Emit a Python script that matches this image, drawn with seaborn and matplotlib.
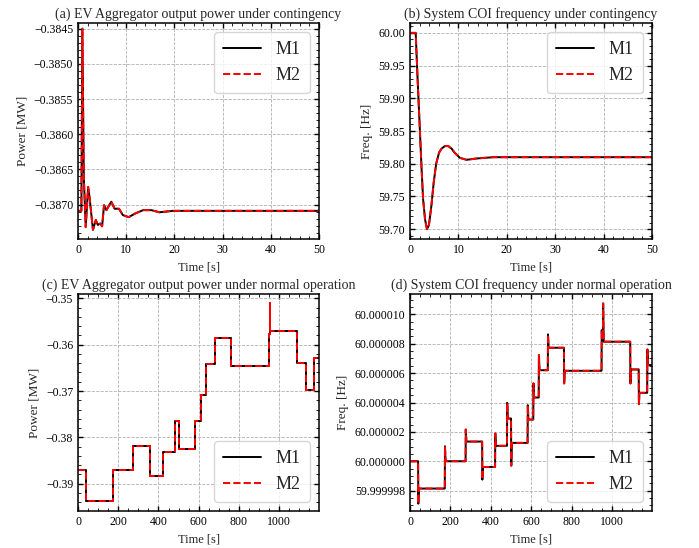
import numpy as np
import pandas as pd
import matplotlib
matplotlib.use("Agg")
import matplotlib.pyplot as plt
import seaborn as sns
from matplotlib.ticker import AutoMinorLocator, FuncFormatter, MultipleLocator

# ---- (a) EV aggregator power under contingency ----
t_a = [0, 0.7, 0.9, 1.2, 1.6, 2.1, 2.4, 3.1, 3.7, 4.1, 4.6, 5.0, 5.4, 5.9, 6.9,
       7.6, 8.5, 9.3, 10.5, 11.8, 13.5, 15.2, 16.9, 19.7, 30, 40, 50]
p_a = [-0.38709, -0.38709, -0.3845, -0.3866, -0.38732, -0.38675, -0.38690, -0.38736,
       -0.38722, -0.38729, -0.38727, -0.38731, -0.38701, -0.38708, -0.38696,
       -0.38706, -0.38706, -0.38715, -0.38718, -0.38713, -0.38708, -0.38708,
       -0.38711, -0.38709, -0.38709, -0.38709, -0.38709]

# ---- (b) COI frequency under contingency ----
t_b = [0, 1.17, 1.5, 2.0, 2.4, 2.7, 3.1, 3.5, 3.9, 4.4, 4.9, 5.4, 6.0, 6.5, 7.2,
       7.9, 8.6, 9.2, 10.3, 11.7, 13.7, 17.2, 25, 35, 50]
f_b = [60.0, 60.0, 59.94, 59.857, 59.79, 59.746, 59.715, 59.70, 59.706, 59.735,
       59.772, 59.80, 59.817, 59.823, 59.827, 59.827, 59.823, 59.817, 59.809,
       59.806, 59.808, 59.81, 59.81, 59.81, 59.81]

# ---- (c) EV aggregator power under normal operation (step changes) ----
t_c = [0, 38.5, 172, 273, 356, 421, 480, 500, 582, 610, 637, 682, 762, 948, 953,
       956, 1090, 1132, 1174]
p_c = [-0.38712, -0.39382, -0.38712, -0.38193, -0.38841, -0.38315, -0.37645,
       -0.38258, -0.37652, -0.37076, -0.36427, -0.3585, -0.36456, -0.3578,
       -0.3511, -0.35706, -0.36391, -0.36968, -0.36283]

# ---- (d) COI frequency under normal operation: deviation from 60 Hz [uHz] ----
t_d = [0, 40, 172, 275, 357, 421, 480, 500, 582, 610, 637, 682, 762, 948, 955,
       1090, 1132, 1174]
peak_d = [0.0, -2.89, 1.02, 2.16, -1.25, 1.89, 3.98, -0.3, 3.82, 5.3, 7.23,
          8.64, 5.3, 8.93, 10.75, 5.3, 3.89, 7.61]
level_d = [0.0, -1.86, 0.0, 1.34, -0.39, 1.05, 2.91, 1.25, 2.84, 4.34, 6.2,
           7.73, 6.16, 8.3, 8.14, 6.25, 4.66, 6.55]
t_end = 1198

models = ["M1", "M2"]


def step_curve(times, levels, end):
    x, y = [], []
    for i, (t, v) in enumerate(zip(times, levels)):
        nxt = times[i + 1] if i + 1 < len(times) else end
        x += [t, nxt]
        y += [v, v]
    return x, y


def spiky_curve(times, peaks, levels, end):
    x, y = [times[0]], [levels[0]]
    for i in range(1, len(times)):
        t = times[i]
        x += [t, t + 1, t + 4]
        y += [levels[i - 1], peaks[i], levels[i]]
    x.append(end)
    y.append(levels[-1])
    return x, y


def long_df(x, y):
    return pd.concat([pd.DataFrame({"t": x, "v": y, "model": m}) for m in models],
                     ignore_index=True)


def fmt(decimals):
    return FuncFormatter(lambda v, _: f"{v:.{decimals}f}".replace("-", "\u2212"))


sns.set_style("ticks")
plt.rcParams["font.family"] = ["Liberation Serif", "DejaVu Serif"]
plt.rcParams["mathtext.fontset"] = "stix"
plt.rcParams.update({
    "xtick.direction": "in", "ytick.direction": "in",
    "xtick.top": True, "ytick.right": True,
    "xtick.minor.visible": True, "ytick.minor.visible": True,
    "xtick.major.size": 3.5, "ytick.major.size": 3.5,
    "xtick.minor.size": 2, "ytick.minor.size": 2,
    "xtick.major.width": 1.0, "ytick.major.width": 1.0,
    "xtick.labelsize": 8.5, "ytick.labelsize": 8.5,
    "axes.linewidth": 1.1, "axes.edgecolor": "black",
    "xtick.color": "black", "ytick.color": "black",
})

fig = plt.figure(figsize=(6.99, 5.48), dpi=100)
pos = {
    "a": [0.1116, 0.5639, 0.3448, 0.394],
    "b": [0.5866, 0.5639, 0.3462, 0.394],
    "c": [0.1116, 0.0675, 0.3448, 0.396],
    "d": [0.5866, 0.0675, 0.3462, 0.396],
}

xd, yd = spiky_curve(t_d, peak_d, level_d, t_end)
yd = [60.0 + v * 1e-6 for v in yd]
xc, yc = step_curve(t_c, p_c, t_end)

panels = [
    ("a", long_df(t_a, p_a), "(a) EV Aggregator output power under contingency",
     "Power [MW]", (0, 50), (-0.38749, -0.38442), "upper right"),
    ("b", long_df(t_b, f_b), "(b) System COI frequency under contingency",
     "Freq. [Hz]", (0, 50), (59.685, 60.015), "upper right"),
    ("c", long_df(xc, yc), "(c) EV Aggregator output power under normal operation",
     "Power [MW]", (0, t_end), (-0.3959, -0.34906), "lower right"),
    ("d", long_df(xd, yd), "(d) System COI frequency under normal operation",
     "Freq. [Hz]", (0, t_end), (60 - 3.39e-6, 60 + 11.39e-6), "lower right"),
]

for key, df, title, ylabel, xlim, ylim, loc in panels:
    ax = fig.add_axes(pos[key])
    sns.lineplot(data=df, x="t", y="v", hue="model", style="model",
                 palette={"M1": "black", "M2": "red"},
                 dashes={"M1": "", "M2": (3.7, 1.6)},
                 estimator=None, sort=False, linewidth=1.4, ax=ax)
    ax.set_xlim(*xlim)
    ax.set_ylim(*ylim)
    ax.set_title(title, fontsize=10, pad=4)
    ax.set_xlabel("Time [s]", fontsize=9)
    ax.set_ylabel(ylabel, fontsize=9.5)
    ax.grid(True, which="major", color="#b0b0b0", linestyle="--", linewidth=0.6)
    ax.xaxis.set_minor_locator(AutoMinorLocator())
    ax.yaxis.set_minor_locator(AutoMinorLocator())
    if key == "a":
        ax.yaxis.set_major_locator(MultipleLocator(0.0005))
        ax.yaxis.set_major_formatter(fmt(4))
    if key == "b":
        ax.yaxis.set_major_locator(MultipleLocator(0.05))
        ax.yaxis.set_major_formatter(fmt(2))
    if key == "c":
        ax.yaxis.set_major_locator(MultipleLocator(0.01))
        ax.yaxis.set_major_formatter(fmt(2))
    if key == "d":
        ax.set_yticks([60 + k * 2e-6 for k in range(-1, 6)])
        ax.yaxis.set_major_formatter(fmt(6))
    ax.legend(loc=loc, fontsize=13, fancybox=True, frameon=True,
              handlelength=2.1, borderpad=0.5)

fig.savefig("out.png", dpi=100)
